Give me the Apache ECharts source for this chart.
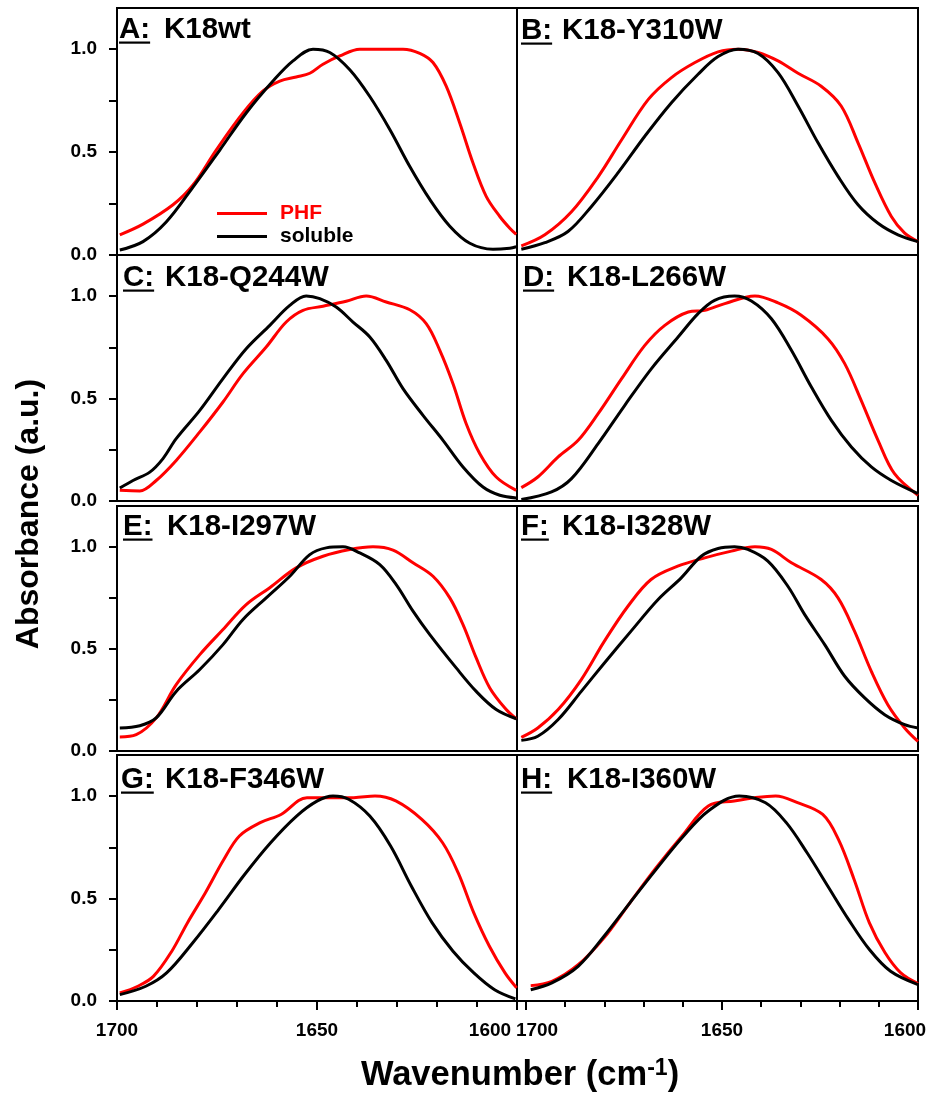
<!DOCTYPE html>
<html>
<head>
<meta charset="utf-8">
<script src="https://cdn.jsdelivr.net/npm/echarts@6/dist/echarts.min.js"></script>
<style>
html,body{margin:0;padding:0;background:#fff;}
#chart{width:932px;height:1106px;}
</style>
</head>
<body>
<div id="chart"></div>
<script>
// ---------------- DATA (wavenumber cm-1, normalised absorbance) ----------------
const panelLetters = ['A:', 'B:', 'C:', 'D:', 'E:', 'F:', 'G:', 'H:'];
const panelNames = ['K18wt', 'K18-Y310W', 'K18-Q244W', 'K18-L266W', 'K18-I297W', 'K18-I328W', 'K18-F346W', 'K18-I360W'];
const seriesNames = ['PHF', 'soluble'];
const xMajorTicks = [1600, 1650, 1700];
const xMinorTicks = [1610, 1620, 1630, 1640, 1660, 1670, 1680, 1690];
const yTickValues = [0, 0.25, 0.5, 0.75, 1.0];
const yLabelValues = [0, 0.5, 1.0];

const phfA = [[1699.3,0.098],[1693.5,0.15],[1686,0.244],[1681,0.34],[1675.2,0.51],[1668.5,0.69],[1663.5,0.797],[1659.3,0.845],[1655.2,0.865],[1651.8,0.883],[1648.5,0.927],[1644.3,0.967],[1639.3,1.0],[1633.5,1.0],[1628.5,1.0],[1624.3,0.98],[1621,0.935],[1617.7,0.82],[1614.3,0.64],[1611,0.447],[1607.7,0.285],[1604.3,0.187],[1601.8,0.13],[1600.2,0.10]];
const solA = [[1699.3,0.024],[1693.5,0.065],[1687.7,0.16],[1681,0.33],[1674.3,0.51],[1667.7,0.69],[1661,0.845],[1656,0.943],[1651,1.0],[1646.8,0.984],[1641.8,0.90],[1636.8,0.77],[1631.8,0.61],[1626.8,0.43],[1621.8,0.27],[1616.8,0.14],[1611.8,0.057],[1606,0.028],[1601.8,0.033],[1600.2,0.04]];

const phfB = [[1701.2,0.044],[1695.2,0.098],[1688.4,0.21],[1681.6,0.38],[1675.6,0.56],[1668.8,0.756],[1662.9,0.862],[1656.9,0.935],[1651,0.987],[1645.9,1.0],[1640.8,0.984],[1635.7,0.943],[1630.6,0.883],[1624.7,0.82],[1619.6,0.724],[1615.3,0.545],[1611,0.35],[1606.8,0.187],[1603.4,0.106],[1600,0.065]];
const solB = [[1701.2,0.028],[1695.2,0.06],[1689.3,0.114],[1683.3,0.236],[1676.5,0.40],[1669.7,0.577],[1662.9,0.74],[1656.1,0.878],[1651,0.964],[1645.9,1.0],[1640.8,0.979],[1635.7,0.886],[1630.6,0.724],[1625.5,0.545],[1620.4,0.382],[1615.3,0.244],[1610.2,0.154],[1605.1,0.098],[1600,0.065]];

const phfC = [[1699.3,0.052],[1694.3,0.049],[1690.2,0.10],[1685.2,0.198],[1679.3,0.337],[1673.5,0.483],[1668.5,0.621],[1662.7,0.751],[1657.7,0.873],[1653.5,0.93],[1648.5,0.95],[1642.7,0.974],[1637.7,1.0],[1632.7,0.971],[1626.8,0.933],[1622.7,0.865],[1619.3,0.735],[1616,0.572],[1612.7,0.377],[1609.3,0.231],[1605.2,0.117],[1600.2,0.052]];
const solC = [[1699.3,0.063],[1696,0.10],[1691.8,0.141],[1688.5,0.207],[1685.2,0.304],[1679.3,0.442],[1673.5,0.597],[1667.7,0.743],[1661.8,0.857],[1656.8,0.954],[1652.7,1.0],[1649.3,0.987],[1645.2,0.946],[1641,0.873],[1636.8,0.80],[1632.7,0.686],[1628.5,0.548],[1623.5,0.418],[1618.5,0.296],[1613.5,0.166],[1608.5,0.068],[1604.3,0.028],[1600.2,0.015]];

const phfD = [[1701.2,0.065],[1697,0.117],[1691.8,0.215],[1686.7,0.296],[1681.6,0.426],[1675.6,0.597],[1669.7,0.759],[1664.6,0.857],[1658.6,0.922],[1654.4,0.93],[1649.3,0.963],[1641.6,1.0],[1635.7,0.966],[1629.8,0.906],[1623,0.792],[1618.7,0.67],[1614.5,0.491],[1610.2,0.296],[1606,0.133],[1600,0.028]];
const solD = [[1701.2,0.007],[1693.5,0.044],[1688.4,0.109],[1681.6,0.28],[1674.8,0.467],[1668,0.646],[1661.2,0.80],[1656.1,0.914],[1651.9,0.979],[1646.8,1.0],[1642.5,0.976],[1637.4,0.889],[1632.3,0.735],[1627.2,0.556],[1622.1,0.393],[1617,0.263],[1611.9,0.166],[1606.8,0.10],[1600,0.036]];

const phfE = [[1699.3,0.069],[1695.2,0.08],[1690.2,0.162],[1685.2,0.325],[1679.3,0.472],[1673.5,0.595],[1667.7,0.717],[1661.8,0.80],[1655.2,0.897],[1648.5,0.954],[1641.8,0.987],[1636,1.0],[1631,0.984],[1626,0.922],[1621,0.856],[1616.8,0.75],[1613.5,0.619],[1610.2,0.456],[1606.8,0.309],[1602.7,0.203],[1600.2,0.158]];
const solE = [[1699.3,0.113],[1694.3,0.124],[1690.2,0.162],[1685.2,0.292],[1679.3,0.399],[1673.5,0.521],[1668.5,0.644],[1662.7,0.75],[1656.8,0.856],[1651.8,0.962],[1647.7,0.995],[1643.5,1.0],[1639.3,0.97],[1634.3,0.913],[1630.2,0.815],[1626,0.685],[1621.8,0.57],[1615.2,0.407],[1610.2,0.292],[1605.2,0.203],[1600.2,0.158]];

const phfF = [[1701.2,0.067],[1697,0.113],[1691.8,0.203],[1685.9,0.35],[1680,0.538],[1674,0.709],[1668.1,0.84],[1661.3,0.905],[1654.4,0.946],[1647.6,0.979],[1641.6,1.0],[1637.4,0.987],[1632.3,0.922],[1624.7,0.84],[1620.4,0.75],[1616.2,0.587],[1611.9,0.39],[1607.7,0.227],[1603.4,0.113],[1600,0.047]];
const solF = [[1701.2,0.052],[1697,0.072],[1691.8,0.154],[1685.9,0.292],[1680,0.431],[1673.2,0.587],[1666.3,0.742],[1660.4,0.848],[1655.3,0.954],[1651,0.992],[1646.8,1.0],[1643.4,0.987],[1638.3,0.93],[1633.2,0.807],[1628.9,0.668],[1623.8,0.521],[1618.7,0.366],[1613.6,0.26],[1608.5,0.178],[1603.4,0.129],[1600,0.113]];

const phfG = [[1699.3,0.039],[1694.8,0.072],[1690.9,0.12],[1686.3,0.243],[1682.4,0.381],[1677.9,0.528],[1673.3,0.69],[1669.4,0.805],[1664.2,0.87],[1659,0.91],[1652.5,0.992],[1646,0.992],[1640.8,0.992],[1635.5,1.0],[1630.3,0.976],[1623.8,0.886],[1618.6,0.772],[1614.7,0.625],[1610.8,0.43],[1606.9,0.267],[1603,0.137],[1600.1,0.064]];
const solG = [[1699.3,0.031],[1692.8,0.072],[1687.6,0.137],[1681.1,0.283],[1674.6,0.446],[1668.1,0.617],[1661.6,0.772],[1655.1,0.902],[1649.9,0.976],[1646,1.0],[1642.1,0.984],[1636.8,0.902],[1631.6,0.756],[1626.4,0.56],[1621.2,0.381],[1616,0.243],[1610.8,0.137],[1605.6,0.055],[1600.4,0.01]];

const phfH = [[1698.8,0.075],[1693.4,0.096],[1686.7,0.177],[1680.1,0.308],[1673.5,0.479],[1666.8,0.65],[1660.2,0.805],[1653.5,0.951],[1646.9,0.976],[1641.6,0.992],[1636.3,1.0],[1630.9,0.969],[1624.3,0.91],[1620.3,0.788],[1616.3,0.593],[1612.4,0.381],[1608.4,0.235],[1604.4,0.137],[1600,0.085]];
const solH = [[1698.8,0.055],[1693.4,0.088],[1686.7,0.169],[1680.1,0.316],[1673.5,0.479],[1666.8,0.642],[1660.2,0.796],[1653.5,0.927],[1645.6,1.0],[1638.9,0.967],[1633.6,0.87],[1628.3,0.723],[1623,0.56],[1617.7,0.397],[1612.4,0.251],[1607,0.145],[1600,0.08]];

const phfData = [phfA, phfB, phfC, phfD, phfE, phfF, phfG, phfH];
const solData = [solA, solB, solC, solD, solE, solF, solG, solH];

// ---------------- LAYOUT ----------------
const FONT = '"Liberation Sans", Arial, Helvetica, sans-serif';
const colLeft = [117, 517];
const colWidth = [400, 401];
const rowTop = [8, 255, 506, 755];
const rowHeight = [247, 246, 245, 246];
const xMaxByCol = [1700, 1702.3];

const grids = [], xAxes = [], yAxes = [], series = [], graphics = [];
const mctx = document.createElement('canvas').getContext('2d');
function textWidth(t, font) { mctx.font = font; return mctx.measureText(t).width; }

for (let i = 0; i < 8; i++) {
  const col = i % 2, row = Math.floor(i / 2);
  const bottomRow = row === 3;
  grids.push({
    left: colLeft[col], top: rowTop[row], width: colWidth[col], height: rowHeight[row],
    show: true, borderColor: '#000', borderWidth: 2, backgroundColor: 'transparent'
  });
  xAxes.push({
    type: 'value', gridIndex: i, min: 1600, max: xMaxByCol[col], inverse: true,
    axisLine: { show: false }, splitLine: { show: false },
    axisTick: { show: bottomRow, customValues: xMajorTicks, length: 9, lineStyle: { color: '#000', width: 2 } },
    axisLabel: {
      show: bottomRow, customValues: xMajorTicks, margin: 20,
      color: '#000', fontSize: 19, fontWeight: 'bold', fontFamily: FONT,
      formatter: function (v) {
        if (col === 0 && v === 1600) return '{l|1600}';
        if (col === 1 && v === 1700) return '{r|1700}';
        if (col === 1 && v === 1600) return '{e|1600}';
        return String(v);
      },
      rich: {
        l: { fontSize: 19, fontWeight: 'bold', fontFamily: FONT, color: '#000', padding: [0, 54, 0, 0] },
        r: { fontSize: 19, fontWeight: 'bold', fontFamily: FONT, color: '#000', padding: [0, 0, 0, 22] },
        e: { fontSize: 19, fontWeight: 'bold', fontFamily: FONT, color: '#000', padding: [0, 26, 0, 0] }
      }
    }
  });
  yAxes.push({
    type: 'value', gridIndex: i, min: 0, max: 1.2,
    axisLine: { show: false }, splitLine: { show: false },
    axisTick: { show: col === 0, customValues: yTickValues, length: 8, lineStyle: { color: '#000', width: 2 } },
    axisLabel: {
      show: col === 0, customValues: yLabelValues, margin: 20,
      color: '#000', fontSize: 19, fontWeight: 'bold', fontFamily: FONT,
      formatter: function (v) { return v.toFixed(1); }
    }
  });
  series.push({
    name: seriesNames[0], type: 'line', xAxisIndex: i, yAxisIndex: i,
    data: phfData[i], smooth: 0.35, symbol: 'none', clip: true,
    lineStyle: { color: '#ff0000', width: 3 }, itemStyle: { color: '#ff0000' }, z: 3
  });
  series.push({
    name: seriesNames[1], type: 'line', xAxisIndex: i, yAxisIndex: i,
    data: solData[i], smooth: 0.35, symbol: 'none', clip: true,
    lineStyle: { color: '#000000', width: 3 }, itemStyle: { color: '#000000' }, z: 4
  });
}
// minor x ticks on bottom row
[6, 7].forEach(function (gi) {
  const col = gi % 2;
  xAxes.push({
    type: 'value', gridIndex: gi, min: 1600, max: xMaxByCol[col], inverse: true, position: 'bottom',
    axisLine: { show: false }, splitLine: { show: false }, axisLabel: { show: false },
    axisTick: { show: true, customValues: xMinorTicks, length: 6, lineStyle: { color: '#000', width: 2 } }
  });
});

// panel titles
const titlePos = [
  { lx: 119, kx: 164, y: 30 }, { lx: 521, kx: 562, y: 31 },
  { lx: 123, kx: 165, y: 278 }, { lx: 523, kx: 567, y: 278 },
  { lx: 123, kx: 167, y: 527 }, { lx: 521, kx: 562, y: 527 },
  { lx: 121, kx: 165, y: 780 }, { lx: 521, kx: 567, y: 780 }
];
const TFONT = 'bold 29.5px ' + FONT;
for (let i = 0; i < 8; i++) {
  const p = titlePos[i];
  graphics.push({ type: 'text', x: p.lx, y: p.y, z: 10,
    style: { text: panelLetters[i], font: TFONT, fill: '#000', textAlign: 'left', textVerticalAlign: 'middle' } });
  graphics.push({ type: 'rect', z: 10,
    shape: { x: p.lx, y: p.y + 11.5, width: textWidth(panelLetters[i], TFONT), height: 2.2 },
    style: { fill: '#000' } });
  graphics.push({ type: 'text', x: p.kx, y: p.y, z: 10,
    style: { text: panelNames[i], font: TFONT, fill: '#000', textAlign: 'left', textVerticalAlign: 'middle' } });
}
// axis titles
graphics.push({ type: 'text', x: 29, y: 514, rotation: Math.PI / 2, z: 10,
  style: { text: 'Absorbance (a.u.)', font: 'bold 32px ' + FONT, fill: '#000', textAlign: 'center', textVerticalAlign: 'middle' } });
graphics.push({ type: 'text', x: 520, y: 1075, z: 10,
  style: { text: '{a|Wavenumber (cm}{s|-1}{a|)}', textAlign: 'center', textVerticalAlign: 'middle',
    rich: {
      a: { fontSize: 34.5, fontWeight: 'bold', fontFamily: FONT, fill: '#000', color: '#000' },
      s: { fontSize: 23, fontWeight: 'bold', fontFamily: FONT, fill: '#000', color: '#000', verticalAlign: 'top' }
    } } });

const chart = echarts.init(document.getElementById('chart'), null, { renderer: 'canvas' });
chart.setOption({
  animation: false,
  backgroundColor: '#fff',
  grid: grids,
  xAxis: xAxes,
  yAxis: yAxes,
  legend: {
    left: 217, top: 203, orient: 'vertical', padding: 0, itemGap: 2,
    itemWidth: 50, itemHeight: 3, selectedMode: false, icon: 'rect',
    textStyle: { fontSize: 21, fontWeight: 'bold', fontFamily: FONT, padding: [0, 0, 0, 8] },
    data: [
      { name: 'PHF', icon: 'rect', textStyle: { color: '#ff0000' } },
      { name: 'soluble', icon: 'rect', textStyle: { color: '#000' } }
    ]
  },
  series: series,
  graphic: graphics
});
</script>
</body>
</html>
